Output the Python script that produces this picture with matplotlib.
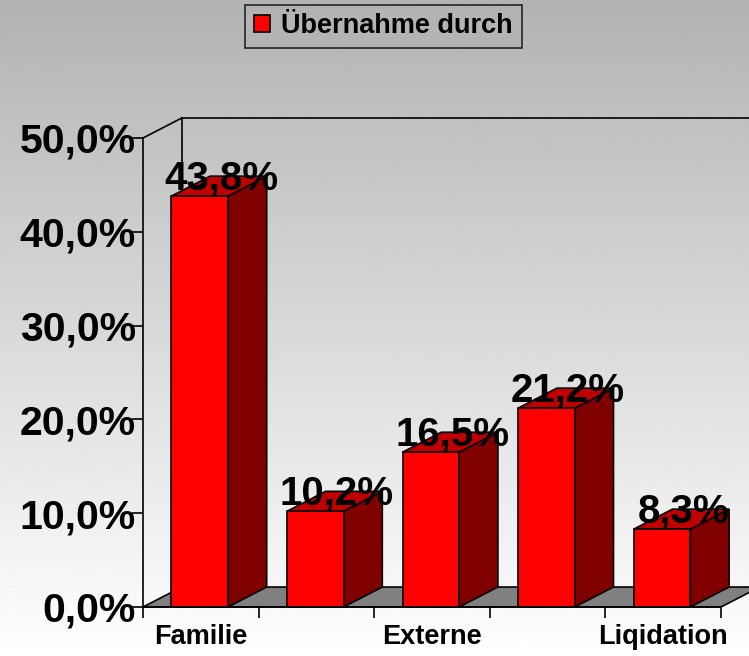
import matplotlib.pyplot as plt
import numpy as np
from matplotlib.patches import Polygon

# Daten
kategorien = ['Familie', '', 'Externe', '', 'Liqidation']
werte = [43.8, 10.2, 16.5, 21.2, 8.3]
y_ticks = [0, 10, 20, 30, 40, 50]
serie = 'Übernahme durch'

plt.rcParams['font.family'] = ['Liberation Sans', 'DejaVu Sans']
plt.rcParams['font.weight'] = 'bold'

fig = plt.figure(figsize=(7.49, 6.56), dpi=100)

# Hintergrund mit Verlauf (grau oben, weiss unten)
bg = fig.add_axes([0, 0, 1, 1], zorder=0)
grad = np.linspace(0.70, 1.0, 256).reshape(-1, 1)
bg.imshow(grad, cmap='gray', vmin=0, vmax=1, aspect='auto', extent=[0, 1, 0, 1], origin='upper')
bg.set_axis_off()

ax = fig.add_axes([143/749, 1 - 607/656, 578/749, 469/656], zorder=1)
ax.patch.set_visible(False)
ax.set_xlim(0, 5)
ax.set_ylim(0, 50)

# Tiefe fuer 3D-Effekt
dx, dy = 0.335, 2.13
n = len(werte)

# Boden
floor = Polygon([(0, 0), (n, 0), (n + dx, dy), (dx, dy)], closed=True,
                facecolor='#808080', edgecolor='black', lw=1.2, clip_on=False, zorder=1)
ax.add_patch(floor)
# Rueckwand / Seitenwand Linien
ax.plot([dx, dx], [dy, 50 + dy], color='black', lw=1.2, clip_on=False, zorder=1)
ax.plot([dx, n + dx], [50 + dy, 50 + dy], color='black', lw=1.2, clip_on=False, zorder=1)
ax.plot([0, dx], [50, 50 + dy], color='black', lw=1.2, clip_on=False, zorder=1)

# Balken
breite = 0.49
pos = np.arange(n) + 0.49
for x, v in zip(pos, werte):
    x0 = x - breite / 2
    x1 = x + breite / 2
    side = Polygon([(x1, 0), (x1 + dx, dy), (x1 + dx, v + dy), (x1, v)], closed=True,
                   facecolor='#800000', edgecolor='black', lw=1.2, clip_on=False, zorder=3)
    top = Polygon([(x0, v), (x1, v), (x1 + dx, v + dy), (x0 + dx, v + dy)], closed=True,
                  facecolor='#c00000', edgecolor='black', lw=1.2, clip_on=False, zorder=3)
    ax.add_patch(side)
    ax.add_patch(top)
ax.bar(pos, werte, width=breite, color='#ff0000', edgecolor='black', lw=1.2, zorder=4,
       label=serie, clip_on=False)

# Werte-Beschriftungen
for x, v in zip(pos, werte):
    ax.text(x + dx / 2 + 0.02, v + 0.7, f'{v:.1f}%'.replace('.', ','), ha='center', va='baseline',
            fontsize=29, fontweight='bold', color='black', zorder=6, clip_on=False)

# Achsen
for s in ['top', 'right']:
    ax.spines[s].set_visible(False)
ax.spines['left'].set_linewidth(1.2)
ax.spines['bottom'].set_linewidth(1.2)
ax.spines['left'].set_zorder(5)
ax.spines['bottom'].set_zorder(5)

ax.set_yticks(y_ticks)
ax.set_yticklabels([f'{t:.1f}%'.replace('.', ',') for t in y_ticks])
ax.tick_params(axis='y', length=8, width=1.2, pad=-3, labelsize=29.5)

ax.set_xticks(np.arange(n + 1))
ax.set_xticklabels([])
ax.set_xticks(np.arange(n) + 0.5, minor=True)
ax.set_xticklabels(kategorien, minor=True)
ax.tick_params(axis='x', which='major', length=8, width=1.2)
ax.tick_params(axis='x', which='minor', length=0, pad=12, labelsize=19.5)

# Legende
leg = fig.legend(loc='upper center', bbox_to_anchor=(0.512, 0.993), frameon=True,
                 fancybox=False, handlelength=0.6, handleheight=0.6, borderaxespad=0,
                 handletextpad=0.4, borderpad=0.32, prop={'weight': 'bold', 'size': 19.5})
leg.get_frame().set_facecolor('#b4b4b4')
leg.get_frame().set_edgecolor('black')
leg.get_frame().set_linewidth(1.2)

fig.savefig('out.png', dpi=100)
